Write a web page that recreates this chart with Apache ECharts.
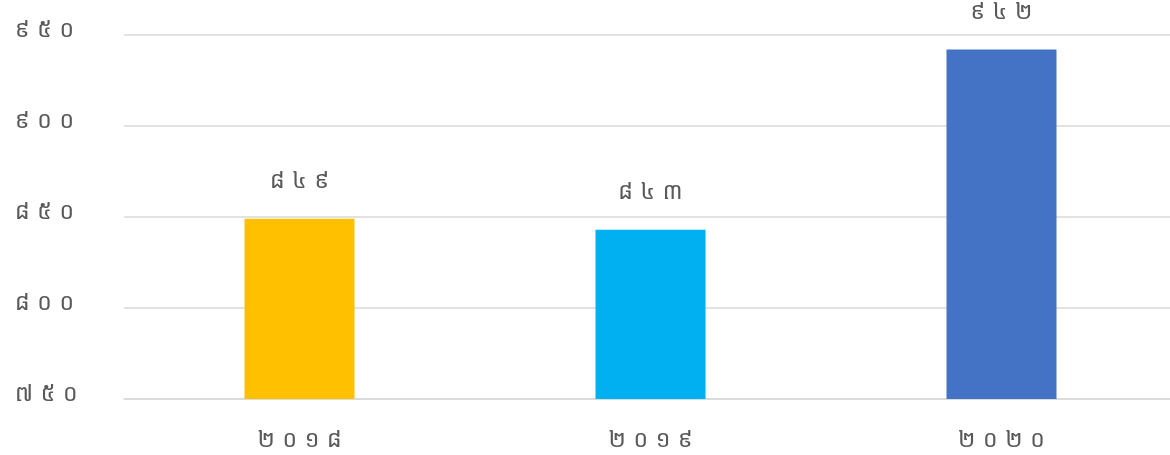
<!DOCTYPE html>
<html><head><meta charset="utf-8">
<script src="https://cdn.jsdelivr.net/npm/echarts@6/dist/echarts.min.js"></script>
<style>html,body{margin:0;padding:0;background:#fff;overflow:hidden}#c{width:1190px;height:455px}</style>
</head><body><div id="c"></div>
<script>
const categories = ['២០១៨', '២០១៩', '២០២០'];
const values = [849, 843, 942];
const valueLabels = ['៨៤៩', '៨៤៣', '៩៤២'];
const yTickLabels = {750: '៧៥០', 800: '៨០០', 850: '៨៥០', 900: '៩០០', 950: '៩៥០'};
const barColors = ['#FFC000', '#00B0F0', '#4472C4'];

const spaced = s => Array.from(s).join('\u2004');
const font = "'Noto Sans Khmer','Khmer OS','Noto Sans','DejaVu Sans',sans-serif";
const chart = echarts.init(document.getElementById('c'));
chart.setOption({
  animation: false,
  grid: {left: 124, right: 13, top: 35, bottom: 56},
  xAxis: {
    type: 'category', data: categories,
    axisLine: {show: true, lineStyle: {color: '#d9d9d9', width: 1.5}},
    axisTick: {show: false},
    axisLabel: {color: '#595959', fontSize: 23, fontFamily: font, margin: 30,
      formatter: v => spaced(v)}
  },
  yAxis: {
    type: 'value', min: 750, max: 950, interval: 50,
    axisLine: {show: false}, axisTick: {show: false},
    splitLine: {lineStyle: {color: '#d9d9d9', width: 1.5}},
    axisLabel: {color: '#595959', fontFamily: font, align: 'left', margin: 109,
      formatter: v => yTickLabels[v] ? '{a|' + spaced(yTickLabels[v]) + '}' : '',
      rich: {a: {color: '#595959', fontSize: 23, fontFamily: font, padding: [0, 0, 10, 0]}}}
  },
  series: [{
    type: 'bar', barWidth: 110,
    data: values.map((v, i) => ({value: v, itemStyle: {color: barColors[i]}})),
    label: {show: true, position: 'top', distance: 26, color: '#595959', fontSize: 23, fontFamily: font,
      formatter: p => spaced(valueLabels[p.dataIndex])}
  }]
});
</script></body></html>
